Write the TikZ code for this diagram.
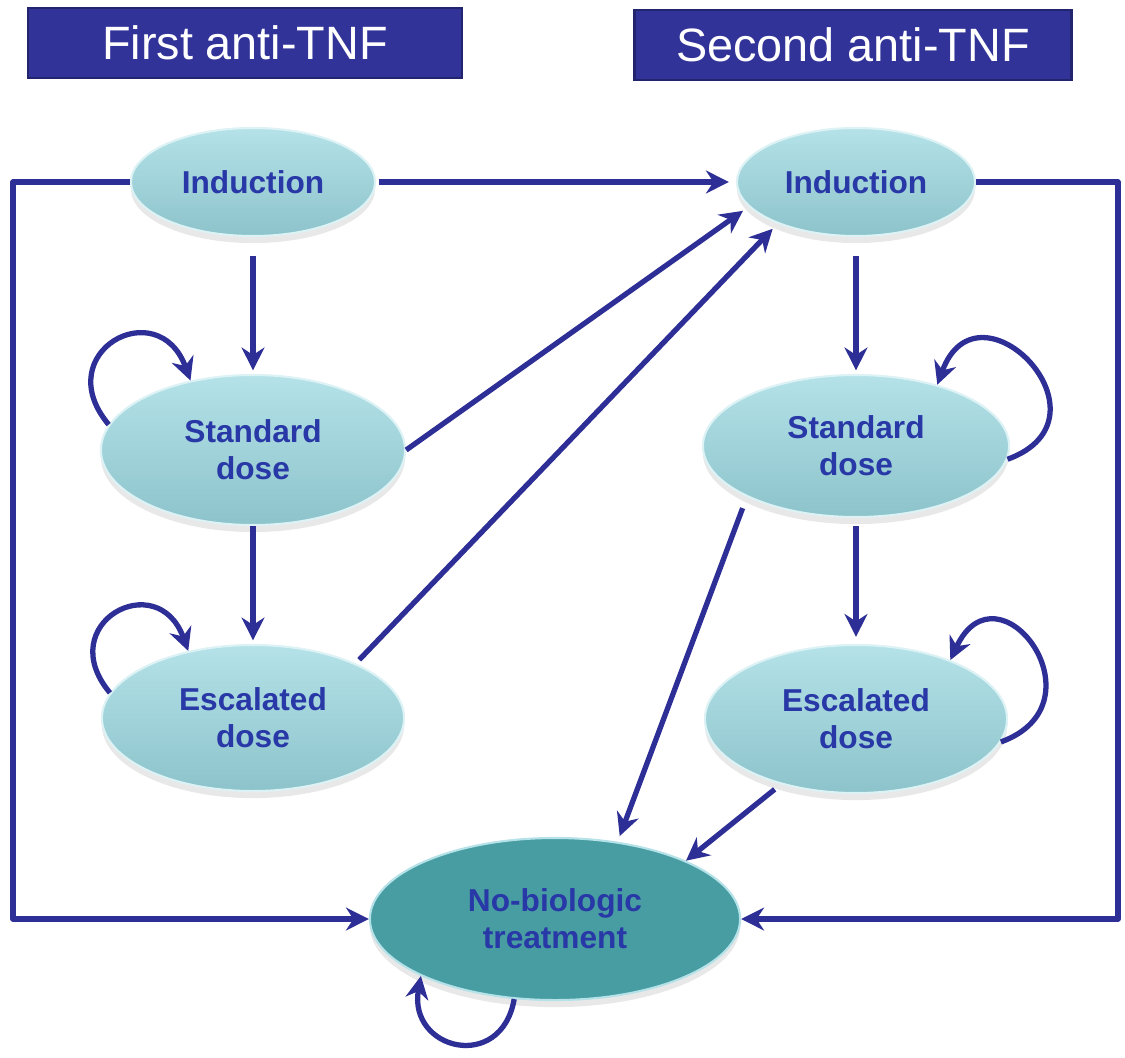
\documentclass[tikz,border=0pt]{standalone}
\usepackage{fontspec}
\setmainfont{Liberation Sans}
\usetikzlibrary{arrows.meta,shapes.geometric,shadows}

\definecolor{linkblue}{HTML}{2E2F96}
\definecolor{titlefill}{HTML}{323399}
\definecolor{titleedge}{HTML}{22246E}
\definecolor{statetop}{HTML}{B4E2E8}
\definecolor{statebottom}{HTML}{8DC3CB}
\definecolor{statetext}{HTML}{2838A6}
\definecolor{nbfill}{HTML}{489DA3}

\begin{document}
\begin{tikzpicture}[x=0.01cm, y=0.01cm, >={Stealth[length=6.5pt,width=6.5pt]},
	link/.style={->, linkblue, line width=1.5pt, line join=round},
	title/.style={draw=titleedge, fill=titlefill, line width=0.7pt, text=white, font=\fontsize{13.3}{16}\selectfont, minimum height=0.7cm, inner sep=0pt},
	state/.style={ellipse, draw=white!55!statetop, line width=0.6pt, top color=statetop, bottom color=statebottom, text=statetext, font=\bfseries\fontsize{9}{10.6}\selectfont, align=center, inner sep=0pt, drop shadow={shadow xshift=0pt, shadow yshift=-2pt, opacity=0.18, fill=gray}}]
	\useasboundingbox (0,0) rectangle (1125,-1057);
	\node[title, minimum width=4.34cm] (t1) at (245,-43) {First anti-TNF};
	\node[title, minimum width=4.37cm] (t2) at (853,-45) {Second anti-TNF};
	\node[state, minimum width=2.44cm, minimum height=1.08cm] (i1) at (253,-182) {Induction};
	\node[state, minimum width=2.38cm, minimum height=1.08cm] (i2) at (856,-182) {Induction};
	\node[state, minimum width=3.04cm, minimum height=1.5cm] (s1) at (253,-450) {Standard\\dose};
	\node[state, minimum width=3.06cm, minimum height=1.42cm] (s2) at (856,-446) {Standard\\dose};
	\node[state, minimum width=3.02cm, minimum height=1.46cm] (e1) at (253,-718) {Escalated\\dose};
	\node[state, minimum width=3.02cm, minimum height=1.48cm] (e2) at (856,-719) {Escalated\\dose};
	\node[state, top color=nbfill, bottom color=nbfill, draw=statetop, minimum width=3.7cm, minimum height=1.62cm] (nb) at (555,-919) {No-biologic\\treatment};
	\coordinate (lc) at (13,0);
	\coordinate (rc) at (1118,0);
	\draw[link, shorten <=0.19cm, shorten >=1pt] (i1.south) -- (s1.north);
	\draw[link, shorten >=1pt] (s1.south) -- (e1.north);
	\draw[link, shorten <=0.19cm, shorten >=1pt] (i2.south) -- (s2.north);
	\draw[link, shorten <=0.08cm, shorten >=2pt] (s2.south) -- (e2.north);
	\draw[link, shorten <=0.03cm, shorten >=0.07cm] (i1.east) -- (i2.west);
	\draw[link, shorten >=0.07cm] (s1.east) -- (i2.193);
	\draw[link, shorten <=0.05cm, shorten >=0.07cm] (e1.28) -- (i2.208);
	\draw[link, shorten <=0.12cm, shorten >=0.06cm] (s2.205) -- (nb.51);
	\draw[link, shorten <=0.08cm] (e2.221) -- (nb.24);
	\draw[link] (i1.west) -- (i1.west -| lc) |- (nb.west);
	\draw[link] (i2.east) -- (i2.east -| rc) |- (nb.east);
	\draw[link] (s1.170) to[out=130, in=110, looseness=2.6] (s1.132);
	\draw[link] (e1.170) to[out=130, in=110, looseness=2.6] (e1.134);
	\draw[link] (s2.355) to[out=20, in=70, looseness=3] (s2.37);
	\draw[link] (e2.351) to[out=20, in=65, looseness=3] (e2.32);
	\draw[link] (nb.243) to[out=260, in=260, looseness=2] (nb.203);
\end{tikzpicture}
\end{document}
